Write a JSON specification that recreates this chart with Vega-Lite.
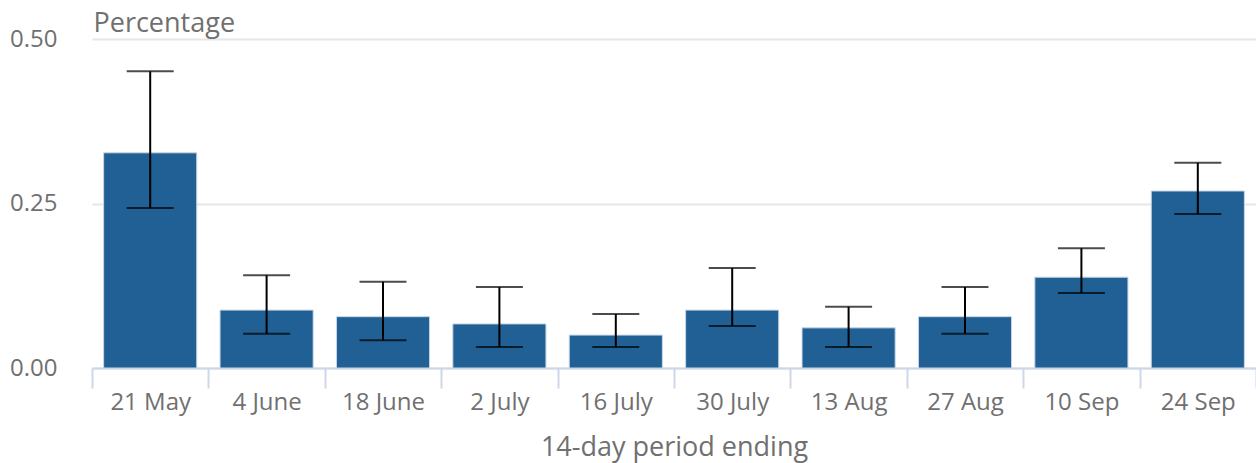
{
  "$schema": "https://vega.github.io/schema/vega-lite/v6.json",
  "width": 1164,
  "height": 329,
  "autosize": {"type": "none"},
  "padding": {"left": 92, "top": 39, "right": 0, "bottom": 95},
  "config": {
    "font": "Open Sans",
    "view": {"stroke": null},
    "axis": {"labelFont": "Open Sans", "titleFont": "Open Sans", "labelColor": "#707070", "titleColor": "#707070", "titleFontWeight": "normal"}
  },
  "data": {
    "values": [
      {"period": "21 May", "value": 0.327, "lower": 0.243, "upper": 0.451},
      {"period": "4 June", "value": 0.088, "lower": 0.052, "upper": 0.141},
      {"period": "18 June", "value": 0.078, "lower": 0.042, "upper": 0.131},
      {"period": "2 July", "value": 0.067, "lower": 0.032, "upper": 0.123},
      {"period": "16 July", "value": 0.050, "lower": 0.032, "upper": 0.082},
      {"period": "30 July", "value": 0.088, "lower": 0.064, "upper": 0.152},
      {"period": "13 Aug", "value": 0.061, "lower": 0.032, "upper": 0.093},
      {"period": "27 Aug", "value": 0.078, "lower": 0.052, "upper": 0.123},
      {"period": "10 Sep", "value": 0.138, "lower": 0.114, "upper": 0.182},
      {"period": "24 Sep", "value": 0.269, "lower": 0.234, "upper": 0.312}
    ]
  },
  "encoding": {
    "x": {
      "field": "period", "type": "nominal", "sort": null,
      "scale": {"paddingInner": 0, "paddingOuter": 0},
      "axis": {
        "title": "14-day period ending", "titleFontSize": 27, "titleBaseline": "alphabetic", "titleY": 87,
        "labelFontSize": 24, "labelAngle": 0, "labelPadding": 2,
        "domainColor": "#cdd6ea", "domainWidth": 2, "tickColor": "#cdd6ea", "tickWidth": 2, "tickSize": 20, "tickBand": "extent",
        "grid": false
      }
    }
  },
  "layer": [
    {
      "mark": {"type": "bar", "color": "#206095", "stroke": "#c9d6e6", "strokeWidth": 1, "width": {"band": 0.8}},
      "encoding": {
        "y": {
          "field": "value", "type": "quantitative",
          "scale": {"domain": [0, 0.5], "nice": false},
          "axis": {
            "title": "Percentage", "titleFontSize": 27, "titleAngle": 0, "titleAlign": "left", "titleBaseline": "alphabetic",
            "titleX": 1, "titleY": -8,
            "values": [0, 0.25, 0.5], "format": ".2f", "labelFontSize": 24, "labelPadding": 35,
            "domain": false, "ticks": false, "gridColor": "#e6e6e6", "gridWidth": 2
          }
        }
      }
    },
    {
      "mark": {"type": "rule", "color": "black", "strokeWidth": 2},
      "encoding": {"y": {"field": "lower", "type": "quantitative"}, "y2": {"field": "upper"}}
    },
    {
      "mark": {"type": "tick", "color": "black", "thickness": 2, "size": 47},
      "encoding": {"y": {"field": "lower", "type": "quantitative"}}
    },
    {
      "mark": {"type": "tick", "color": "black", "thickness": 2, "size": 47},
      "encoding": {"y": {"field": "upper", "type": "quantitative"}}
    }
  ]
}
